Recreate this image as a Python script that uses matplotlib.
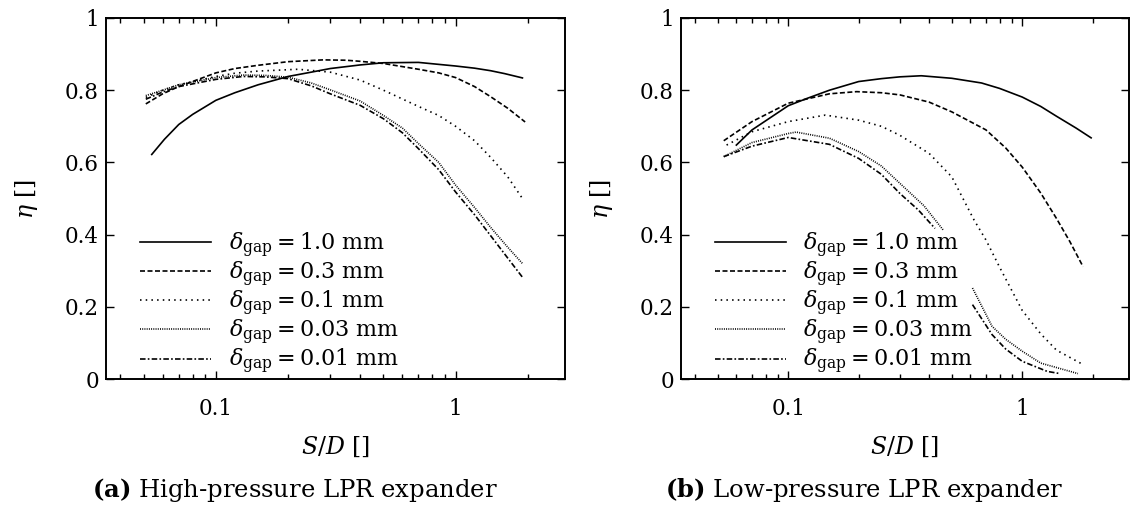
import numpy as np
import matplotlib
matplotlib.use("Agg")
import matplotlib.pyplot as plt
from matplotlib.ticker import FixedLocator, NullFormatter, FixedFormatter

plt.rcParams['font.family'] = ['DejaVu Serif']
plt.rcParams['mathtext.fontset'] = 'dejavuserif'
plt.rcParams['lines.scale_dashes'] = False

nan = np.nan

# ---- data: panel (a) high-pressure ----
a_x_10 = [0.054, 0.061, 0.07, 0.08, 0.1, 0.12, 0.15, 0.2, 0.25, 0.3, 0.4, 0.5, 0.7, 1.0, 1.2, 1.4, 1.6, 1.9]
a_eta_10 = [0.622, 0.664, 0.705, 0.733, 0.772, 0.793, 0.815, 0.838, 0.850, 0.860, 0.870, 0.876, 0.877, 0.867, 0.861, 0.854, 0.846, 0.834]
a_x_03 = [0.051, 0.06, 0.07, 0.1, 0.12, 0.15, 0.2, 0.28, 0.35, 0.4, 0.5, 0.7, 0.85, 1.0, 1.2, 1.4, 1.65, 1.95]
a_eta_03 = [0.762, 0.79, 0.81, 0.848, 0.86, 0.869, 0.879, 0.884, 0.883, 0.880, 0.874, 0.858, 0.848, 0.835, 0.81, 0.782, 0.75, 0.712]
a_x_01 = [0.051, 0.06, 0.07, 0.1, 0.12, 0.15, 0.22, 0.3, 0.4, 0.5, 0.7, 0.85, 1.0, 1.2, 1.4, 1.65, 1.9]
a_eta_01 = [0.78, 0.80, 0.815, 0.838, 0.847, 0.853, 0.858, 0.85, 0.828, 0.80, 0.755, 0.73, 0.70, 0.66, 0.614, 0.56, 0.50]
a_x_003 = [0.051, 0.06, 0.07, 0.1, 0.13, 0.16, 0.2, 0.25, 0.3, 0.4, 0.5, 0.6, 0.7, 0.85, 1.0, 1.2, 1.4, 1.65, 1.9]
a_eta_003 = [0.785, 0.80, 0.815, 0.835, 0.842, 0.841, 0.836, 0.82, 0.801, 0.77, 0.730, 0.695, 0.652, 0.60, 0.537, 0.475, 0.42, 0.365, 0.32]
a_x_001 = [0.051, 0.06, 0.07, 0.1, 0.13, 0.16, 0.2, 0.25, 0.3, 0.4, 0.5, 0.6, 0.7, 0.85, 1.0, 1.2, 1.4, 1.65, 1.9]
a_eta_001 = [0.775, 0.795, 0.81, 0.83, 0.838, 0.837, 0.832, 0.812, 0.79, 0.758, 0.721, 0.682, 0.638, 0.58, 0.518, 0.455, 0.397, 0.335, 0.282]

# ---- data: panel (b) low-pressure ----
b_x_10 = [0.06, 0.07, 0.1, 0.12, 0.15, 0.2, 0.25, 0.3, 0.37, 0.5, 0.67, 0.8, 1.0, 1.2, 1.4, 1.7, 1.97]
b_eta_10 = [0.648, 0.69, 0.757, 0.777, 0.80, 0.824, 0.832, 0.837, 0.840, 0.833, 0.82, 0.805, 0.781, 0.755, 0.728, 0.695, 0.668]
b_x_03 = [0.053, 0.07, 0.1, 0.15, 0.196, 0.25, 0.3, 0.4, 0.5, 0.7, 0.85, 1.0, 1.2, 1.4, 1.6, 1.82]
b_eta_03 = [0.66, 0.713, 0.764, 0.79, 0.796, 0.793, 0.787, 0.767, 0.74, 0.69, 0.64, 0.587, 0.515, 0.445, 0.38, 0.311]
b_x_01 = [0.0545, 0.07, 0.1, 0.144, 0.2, 0.25, 0.3, 0.4, 0.5, 0.623, 0.7, 0.8, 1.0, 1.2, 1.4, 1.82]
b_eta_01 = [0.648, 0.685, 0.713, 0.731, 0.717, 0.70, 0.675, 0.625, 0.56, 0.44, 0.385, 0.31, 0.19, 0.125, 0.08, 0.04]
b_x_003 = [0.053, 0.07, 0.1, 0.108, 0.15, 0.2, 0.25, 0.3, 0.38, 0.459, nan, 0.613, 0.743, 0.85, 1.0, 1.2, 1.73]
b_eta_003 = [0.616, 0.655, 0.68, 0.684, 0.667, 0.63, 0.59, 0.542, 0.48, 0.413, nan, 0.252, 0.146, 0.11, 0.077, 0.044, 0.015]
b_x_001 = [0.053, 0.07, 0.1, 0.15, 0.2, 0.25, 0.3, 0.36, 0.424, nan, 0.613, 0.743, 0.85, 1.0, 1.28, 1.45]
b_eta_001 = [0.616, 0.645, 0.669, 0.65, 0.611, 0.567, 0.514, 0.468, 0.417, nan, 0.206, 0.123, 0.083, 0.049, 0.021, 0.015]

labels = [r'$\delta_{\mathrm{gap}} = 1.0\ \mathrm{mm}$',
          r'$\delta_{\mathrm{gap}} = 0.3\ \mathrm{mm}$',
          r'$\delta_{\mathrm{gap}} = 0.1\ \mathrm{mm}$',
          r'$\delta_{\mathrm{gap}} = 0.03\ \mathrm{mm}$',
          r'$\delta_{\mathrm{gap}} = 0.01\ \mathrm{mm}$']
captions = [r'$\mathbf{(a)}$ High-pressure LPR expander',
            r'$\mathbf{(b)}$ Low-pressure LPR expander']
ytick_vals = [0, 0.2, 0.4, 0.6, 0.8, 1.0]
ytick_labels = ['0', '0.2', '0.4', '0.6', '0.8', '1']
xtick_vals = [0.1, 1]
xtick_labels = ['0.1', '1']
xminor_vals = [0.04, 0.05, 0.06, 0.07, 0.08, 0.09, 0.2, 0.3, 0.4, 0.5, 0.6, 0.7, 0.8, 0.9, 2]

styles = ['-', (0, (3.6, 1.8)), (0, (1.1, 3.0)), (0, (0.7, 0.9)), (0, (4.0, 1.6, 1.2, 1.6))]

W, H = 1136, 508
fig = plt.figure(figsize=(W / 100, H / 100), dpi=100)

FS_TICK = 15.5
FS = 17
FS_LEG = 16
FS_CAP = 17.5

def make_panel(rect, series, caption):
    ax = fig.add_axes(rect)
    lines = []
    for (x, y), ls in zip(series, styles):
        ln, = ax.plot(x, y, color='black', lw=1.2, linestyle=ls)
        lines.append(ln)
    ax.set_xscale('log')
    ax.set_xlim(0.0348, 2.86)
    ax.set_ylim(0, 1)
    ax.xaxis.set_major_locator(FixedLocator(xtick_vals))
    ax.xaxis.set_major_formatter(FixedFormatter(xtick_labels))
    ax.xaxis.set_minor_locator(FixedLocator(xminor_vals))
    ax.xaxis.set_minor_formatter(NullFormatter())
    ax.yaxis.set_major_locator(FixedLocator(ytick_vals))
    ax.yaxis.set_major_formatter(FixedFormatter(ytick_labels))
    ax.tick_params(which='both', direction='in', top=True, right=True, width=1.0)
    ax.tick_params(which='major', length=6)
    ax.tick_params(which='minor', length=3.5)
    ax.tick_params(axis='x', which='major', pad=14, labelsize=FS_TICK)
    ax.tick_params(axis='y', which='major', pad=5, labelsize=FS_TICK)
    for s in ax.spines.values():
        s.set_linewidth(1.4)
    ax.set_xlabel(r'$S/D$ []', fontsize=FS, labelpad=10)
    ax.set_ylabel(r'$\eta$ []', fontsize=FS, labelpad=18)
    ax.legend(lines, labels, loc='lower left', bbox_to_anchor=(0.06, -0.01),
              fontsize=FS_LEG, frameon=False, handlelength=3.2, handletextpad=0.8,
              labelspacing=0.0, borderpad=0.3, borderaxespad=0)
    x0 = rect[0] + rect[2] / 2
    fig.text(x0 - 41 / W, 1 - 490 / H, caption, ha='center', va='center', fontsize=FS_CAP)
    return ax

make_panel([106 / W, 1 - 379 / H, 459 / W, 361 / H],
           [(a_x_10, a_eta_10), (a_x_03, a_eta_03), (a_x_01, a_eta_01),
            (a_x_003, a_eta_003), (a_x_001, a_eta_001)], captions[0])
make_panel([681 / W, 1 - 379 / H, 448 / W, 361 / H],
           [(b_x_10, b_eta_10), (b_x_03, b_eta_03), (b_x_01, b_eta_01),
            (b_x_003, b_eta_003), (b_x_001, b_eta_001)], captions[1])

fig.savefig('out.png', dpi=100)
